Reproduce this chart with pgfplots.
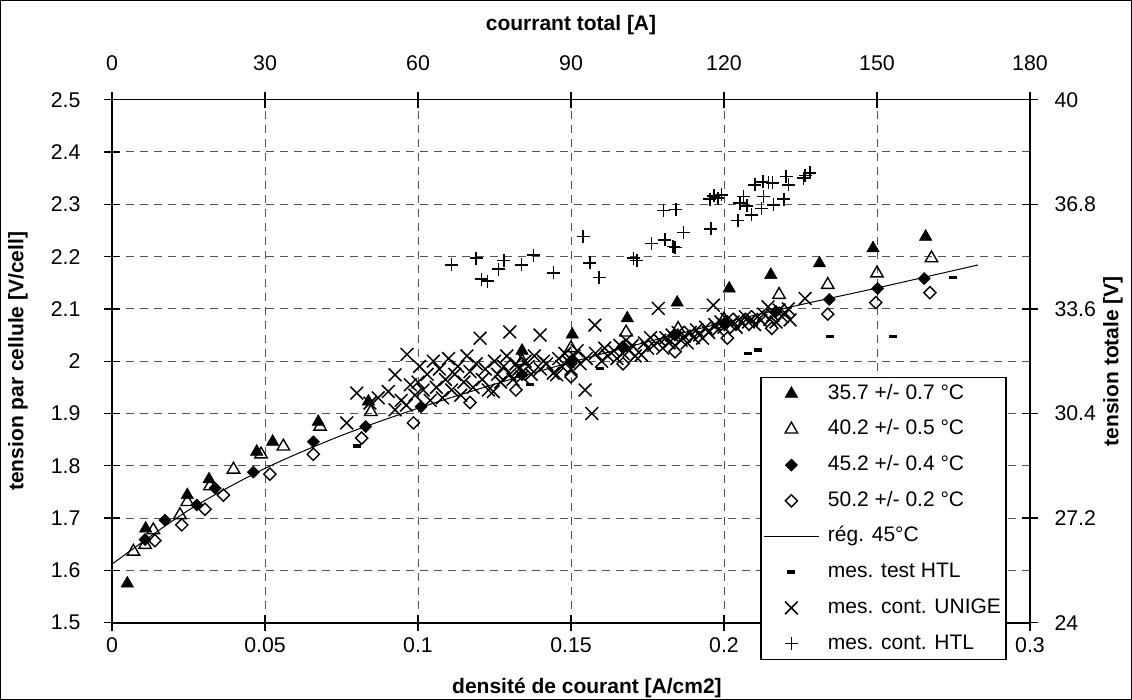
\documentclass[border=0pt]{standalone}
\usepackage{fontspec}
\setmainfont{Liberation Sans}
\usepackage{pgfplots}
\pgfplotsset{compat=1.18}
\newcommand{\tfont}{\fontsize{21.3bp}{25bp}\selectfont}
\newcommand{\gfont}{\fontsize{21bp}{25bp}\selectfont}
\newcommand{\lfont}{\fontsize{21bp}{25bp}\selectfont\bfseries}
\begin{document}
\begin{tikzpicture}
\useasboundingbox (0,0) rectangle (1132bp,700bp);
\draw[line width=1.2bp] (0.6bp,0.6bp) rectangle (1131.4bp,699.4bp);
\begin{axis}[
  at={(112bp,77.3bp)}, anchor=south west,
  scale only axis, width=918bp, height=523bp,
  xmin=0, xmax=0.3, ymin=1.5, ymax=2.5,
  xtick={0,0.05,0.1,0.15,0.2,0.25,0.3}, ytick={1.5,1.6,...,2.5},
  xticklabels={0,0.05,0.1,0.15,0.2,,0.3},
  axis x line*=bottom, axis y line*=left,
  axis line style={line width=1.6bp, -},
  tick align=center, major tick length=16bp,
  tick style={line width=1.3bp, black},
  /pgf/number format/assume math mode=true,
  xticklabel style={font=\tfont, yshift=-3bp},
  yticklabel style={font=\tfont, xshift=-20bp, /pgf/number format/fixed, /pgf/number format/precision=2},
  grid=major,
  major grid style={line width=1bp, gray!65!black, dash pattern=on 8bp off 6bp},
  xlabel={densité de courant [A/cm2]},
  ylabel={tension par cellule [V/cell]},
  xlabel style={font=\lfont, at={(axis description cs:0.5174,-0.124)}, anchor=center},
  ylabel style={font=\lfont, at={(axis description cs:-0.1024,0.5)}, anchor=center},
  legend image code/.code={\draw[mark repeat=2,mark phase=2,#1] plot coordinates {(0bp,0bp) (27bp,0bp) (54bp,0bp)};},
  legend style={at={(axis description cs:0.706,0.470)}, anchor=north west,
    draw=black, line width=1.6bp, fill=white, font=\gfont,
    inner xsep=3bp, inner ysep=4bp, row sep=11.7bp, column sep=7bp,
    nodes={text height=15.5bp, text depth=4.5bp, inner sep=2bp},
    cells={anchor=west}},
  legend cell align=left,
]
% 35.7 C
\addplot[only marks, mark=triangle*, mark size=7.2bp, mark options={fill=black, draw=black, line width=0.5bp}] coordinates {
(0.005,1.575) (0.011,1.680) (0.0246,1.744) (0.0317,1.774) (0.0473,1.827) (0.0525,1.846)
(0.0674,1.884) (0.0838,1.923) (0.134,2.020) (0.1504,2.051) (0.1684,2.082) (0.1847,2.112)
(0.2017,2.139) (0.2153,2.165) (0.2312,2.187) (0.2487,2.216) (0.2659,2.238)
};
\addlegendentry{35.7 +/- 0.7 °C}
% 40.2 C
\addplot[only marks, mark=triangle, mark size=7.2bp, mark options={draw=black, line width=1.4bp}] coordinates {
(0.007,1.636) (0.0108,1.649) (0.0135,1.677) (0.0222,1.706) (0.0246,1.731) (0.032,1.761)
(0.0397,1.793) (0.0487,1.822) (0.056,1.837) (0.068,1.875) (0.0846,1.903)
(0.134,2.000) (0.150,2.025) (0.168,2.055) (0.185,2.062) (0.200,2.080)
(0.218,2.127) (0.2339,2.146) (0.250,2.168) (0.2678,2.197)
};
\addlegendentry{40.2 +/- 0.5 °C}
% 45.2 C
\addplot[only marks, mark=square*, mark size=4.3bp, mark options={rotate=45, fill=black, draw=black, line width=0.5bp}] coordinates {
(0.0108,1.659) (0.0173,1.696) (0.0277,1.725) (0.0337,1.757) (0.0462,1.788) (0.0658,1.846)
(0.0829,1.875) (0.101,1.913) (0.134,1.974) (0.150,2.000) (0.167,2.028) (0.184,2.050)
(0.200,2.072) (0.217,2.095) (0.2344,2.118) (0.2502,2.139) (0.2654,2.158)
};
\addlegendentry{45.2 +/- 0.4 °C}
% 50.2 C
\addplot[only marks, mark=square, mark size=4.3bp, mark options={rotate=45, draw=black, line width=1.4bp}] coordinates {
(0.014,1.657) (0.0228,1.687) (0.0304,1.717) (0.0364,1.744) (0.0516,1.784) (0.0658,1.822)
(0.0816,1.853) (0.0985,1.882) (0.117,1.921) (0.132,1.945) (0.150,1.970) (0.167,1.995)
(0.184,2.018) (0.2011,2.044) (0.2156,2.063) (0.2339,2.090) (0.2496,2.112) (0.2673,2.131)
};
\addlegendentry{50.2 +/- 0.2 °C}
% regression
\addplot[black, line width=1bp, smooth, mark=none] coordinates {
(0,1.612) (0.025,1.715) (0.05,1.795) (0.075,1.858) (0.1,1.910) (0.125,1.956)
(0.15,1.998) (0.175,2.037) (0.2,2.074) (0.225,2.108) (0.25,2.140) (0.283,2.184)
};
\addlegendentry{rég. 45°C}
% mes. test HTL
\addplot[only marks, mark=-, mark size=4bp, mark options={line width=3.5bp, draw=black}] coordinates {
(0.080,1.838) (0.1366,1.955) (0.1595,1.986) (0.208,2.015) (0.2112,2.021)
(0.2346,2.047) (0.2553,2.047) (0.2749,2.160)
};
\addlegendentry{mes. test HTL}
% mes. cont. UNIGE
\addplot[only marks, mark=x, mark size=9bp, mark options={draw=black, line width=1.5bp}] coordinates {
(0.0767,1.882) (0.080,1.939) (0.0843,1.920) (0.0870,1.930) (0.0903,1.942) (0.0925,1.907)
(0.0925,1.974) (0.0945,1.925) (0.0962,1.916) (0.0964,2.013) (0.0975,1.955) (0.0990,1.935)
(0.1000,1.960) (0.1005,1.990) (0.1017,1.945) (0.1030,1.975) (0.1040,1.925) (0.1050,2.000)
(0.1060,1.950) (0.1070,1.985) (0.1080,1.930) (0.1090,1.965) (0.1100,2.005) (0.1110,1.945)
(0.1120,1.975) (0.1130,1.990) (0.1140,1.935) (0.1150,1.960) (0.1160,2.010) (0.1170,1.980)
(0.1180,1.950) (0.1190,1.995) (0.1203,2.044) (0.1210,1.965) (0.1220,1.985) (0.1230,1.945)
(0.1246,1.942) (0.1250,2.000) (0.1260,1.975) (0.1270,1.960) (0.1280,1.990) (0.1290,2.010)
(0.1300,2.056) (0.1300,1.975) (0.1310,1.965) (0.1320,1.995) (0.1330,1.985) (0.1340,1.970)
(0.1350,2.000) (0.1360,1.990) (0.1370,1.975) (0.1380,2.010) (0.1399,2.050) (0.1400,1.985)
(0.1410,2.000) (0.1420,1.995) (0.1442,1.977) (0.1453,1.974) (0.1460,2.005) (0.1470,1.990)
(0.1480,2.015) (0.1490,2.000) (0.1500,1.985) (0.1510,2.010) (0.1520,2.020) (0.1530,1.995)
(0.1546,1.945) (0.1550,2.005) (0.1568,1.900) (0.1578,2.069) (0.1580,2.015) (0.1600,2.000)
(0.1610,2.025) (0.1620,2.010) (0.1640,2.020) (0.1650,2.005) (0.1660,2.030) (0.1670,2.015)
(0.1680,2.040) (0.1690,2.020) (0.1700,2.030) (0.1710,2.010) (0.1730,2.012) (0.1740,2.035)
(0.1750,2.025) (0.1760,2.045) (0.1770,2.030) (0.1785,2.101) (0.1790,2.040) (0.1800,2.025)
(0.1810,2.045) (0.1820,2.035) (0.1830,2.050) (0.1840,2.030) (0.1850,2.055) (0.1860,2.040)
(0.1870,2.048) (0.1880,2.035) (0.1890,2.055) (0.1900,2.045) (0.1910,2.060) (0.1920,2.050)
(0.1930,2.044) (0.1940,2.065) (0.1950,2.055) (0.1965,2.107) (0.1970,2.070) (0.1980,2.060)
(0.1990,2.075) (0.2000,2.065) (0.2010,2.080) (0.2020,2.070) (0.2030,2.075) (0.2040,2.065)
(0.2050,2.080) (0.2060,2.072) (0.2070,2.085) (0.2080,2.075) (0.2090,2.080) (0.2100,2.070)
(0.2110,2.085) (0.2120,2.078) (0.2130,2.090) (0.2144,2.104) (0.2150,2.080) (0.2160,2.088)
(0.2170,2.075) (0.2180,2.098) (0.2190,2.085) (0.2200,2.092) (0.2216,2.079) (0.2210,2.100)
(0.2265,2.120)
};
\addlegendentry{mes. cont. UNIGE}
% mes. cont. HTL
\addplot[only marks, mark=+, mark size=6.5bp, mark options={draw=black, line width=1.5bp}] coordinates {
(0.111,2.184) (0.119,2.197) (0.1208,2.157) (0.1227,2.153) (0.1263,2.176) (0.1281,2.193)
(0.1339,2.184) (0.1377,2.203) (0.1442,2.169) (0.154,2.238) (0.1562,2.188) (0.1592,2.160)
(0.1705,2.197) (0.1715,2.193) (0.1763,2.225) (0.1807,2.232) (0.1834,2.219) (0.1840,2.217)
(0.1867,2.246) (0.1802,2.288) (0.1843,2.290) (0.1957,2.253) (0.1954,2.310) (0.1967,2.316)
(0.1992,2.318) (0.1980,2.312) (0.2045,2.269) (0.2052,2.302) (0.2063,2.315) (0.2075,2.297)
(0.2090,2.280) (0.2101,2.337) (0.2123,2.292) (0.2129,2.315) (0.2127,2.343) (0.2145,2.342)
(0.2159,2.341) (0.2161,2.299) (0.2196,2.310) (0.2203,2.353) (0.2211,2.337) (0.2260,2.350)
(0.2281,2.360) (0.2265,2.355)
};
\addlegendentry{mes. cont. HTL}
\end{axis}
\begin{axis}[
  at={(112bp,77.3bp)}, anchor=south west,
  scale only axis, width=918bp, height=523bp,
  xmin=0, xmax=180, ymin=24, ymax=40,
  xtick={0,30,...,180}, ytick={24,27.2,30.4,33.6,36.8,40},
  axis x line*=top, axis y line*=right,
  axis line style={line width=1.6bp, -},
  tick align=center, major tick length=16bp,
  tick style={line width=1.3bp, black},
  /pgf/number format/assume math mode=true,
  xticklabel style={font=\tfont, yshift=17bp},
  yticklabel style={font=\tfont, xshift=13bp, /pgf/number format/fixed, /pgf/number format/precision=1},
  xlabel={courrant total [A]},
  ylabel={tension totale [V]},
  xlabel style={font=\lfont, at={(axis description cs:0.5,1.143)}, anchor=center},
  ylabel style={font=\lfont, at={(axis description cs:1.0904,0.5)}, anchor=center},
]
\addplot[draw=none, mark=none, forget plot] coordinates {(0,24) (180,40)};
\end{axis}
\end{tikzpicture}
\end{document}
